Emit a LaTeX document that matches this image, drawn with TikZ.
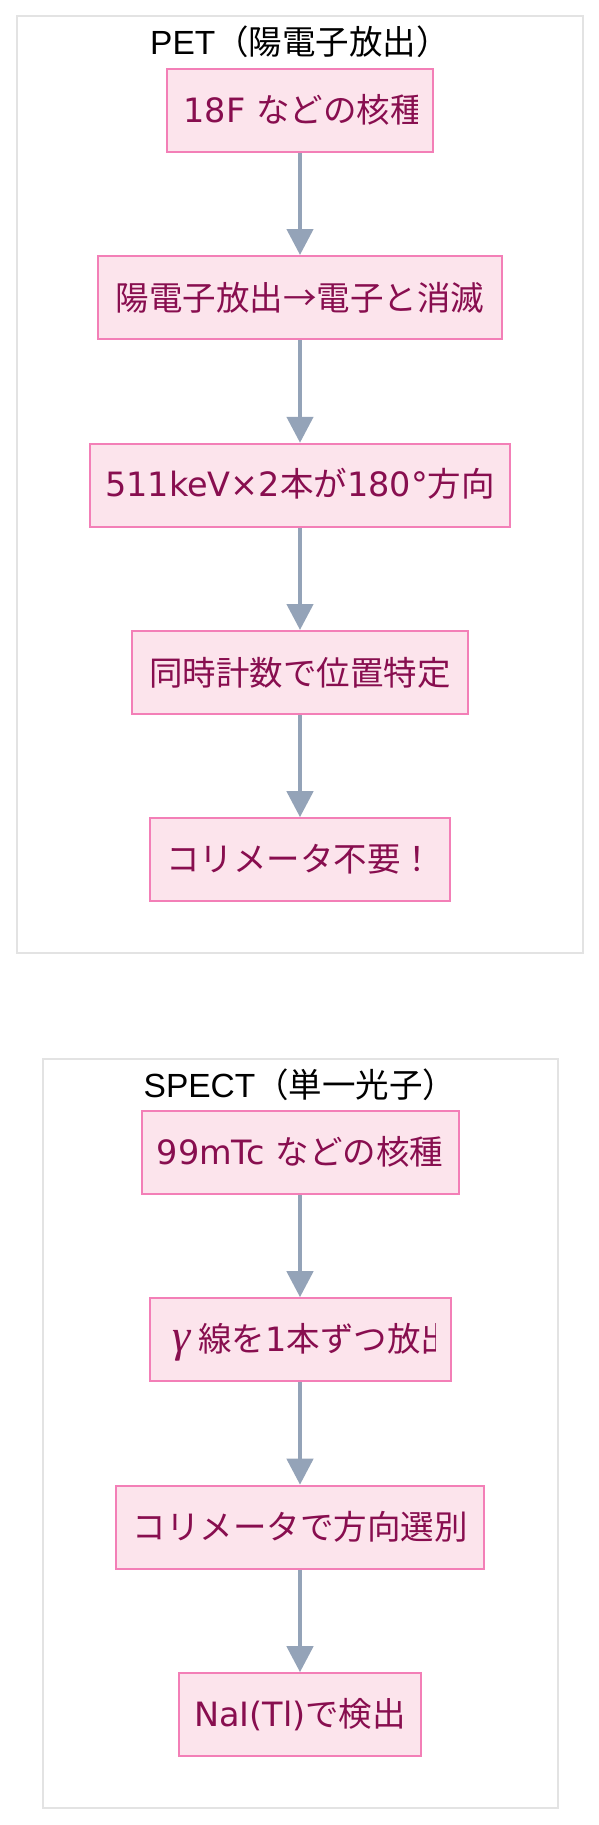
\documentclass[tikz,border=0pt]{standalone}
\usepackage{fontspec}
\newfontfamily\jp{Noto Sans CJK JP}
\newfontfamily\lat{DejaVu Sans}
\newfontfamily\ttllat{Liberation Sans}
\newfontfamily\gk{Liberation Serif}
\newcommand\la[1]{{\lat #1}}
\usetikzlibrary{arrows.meta}
\definecolor{boxfill}{HTML}{FCE4EC}
\definecolor{boxline}{HTML}{F37FB7}
\definecolor{txtc}{HTML}{880E4F}
\definecolor{arrc}{HTML}{94A3B8}
\definecolor{clusterline}{HTML}{E3E3E3}
\tikzset{
  stepbox/.style={draw=boxline, fill=boxfill, line width=2pt, minimum height=83pt,
    inner sep=0pt, text=txtc, font=\jp\fontsize{33.5}{40}\selectfont},
  lbl/.style={inner sep=0pt, text=txtc, font=\jp\fontsize{33.5}{40}\selectfont},
  cluster/.style={draw=clusterline, fill=white, line width=2pt, inner sep=0pt},
  ttl/.style={inner sep=0pt, text=black, font=\jp\fontsize{33.5}{40}\selectfont},
  flow/.style={draw=arrc, line width=4.5pt, -{Triangle[length=26pt,width=26pt]}},
}
\newcommand\cliptext[4]{%
  \begin{scope}
    \clip ([xshift=16pt]#1.south west) rectangle ([xshift=-16pt]#1.north east);
    \node[lbl, anchor=base west] (#4) at ([xshift=#2pt,yshift=-11.5pt]#1.west) {#3};
  \end{scope}}
\begin{document}
\begin{tikzpicture}[x=1pt,y=-1pt]
  \useasboundingbox (0,0) rectangle (599,1825);
  \fill[white] (0,0) rectangle (599,1825);

  % PET cluster
  \node[cluster, minimum width=566pt, minimum height=937pt] (pet) at (300,484.5) {};
  \node[ttl, anchor=base] (pettitle) at (300,55) {{\ttllat PET}（陽電子放出）};

  \node[stepbox, minimum width=265.4pt] (p1) at (300,110.8) {};
  \cliptext{p1}{17}{\la{18F }などの核種}{p1t}
  \node[stepbox, minimum width=403.4pt] (p2) at (300,297.5) {陽電子放出→電子と消滅};
  \node[stepbox, minimum width=420pt] (p3) at (300,485.3) {};
  \cliptext{p3}{16}{\la{511keV×2}本が\la{180°}方向}{p3t}
  \node[stepbox, minimum width=336.6pt] (p4) at (300,672.5) {同時計数で位置特定};
  \node[stepbox, minimum width=300.7pt] (p5) at (300,859.7) {コリメータ不要！};

  \draw[flow] (p1.south) -- (p2.north);
  \draw[flow] (p2.south) -- (p3.north);
  \draw[flow] (p3.south) -- (p4.north);
  \draw[flow] (p4.south) -- (p5.north);

  % SPECT cluster
  \node[cluster, minimum width=514.8pt, minimum height=749pt] (spect) at (300.2,1433.5) {};
  \node[ttl, anchor=base] (specttitle) at (300,1097) {{\ttllat SPECT}（単一光子）};

  \node[stepbox, minimum width=317pt] (s1) at (300,1152.5) {};
  \cliptext{s1}{16}{\la{99mTc }などの核種}{s1t}
  \node[stepbox, minimum width=301pt] (s2) at (300,1339.7) {};
  \cliptext{s2}{16}{\makebox[1em]{\gk\itshape\fontsize{46}{46}\selectfont γ}線を\la{1}本ずつ放出}{s2t}
  \node[stepbox, minimum width=368.3pt] (s3) at (300,1527.2) {コリメータで方向選別};
  \node[stepbox, minimum width=241.4pt] (s4) at (300,1714.7) {\la{NaI(Tl)}で検出};

  \draw[flow] (s1.south) -- (s2.north);
  \draw[flow] (s2.south) -- (s3.north);
  \draw[flow] (s3.south) -- (s4.north);
\end{tikzpicture}
\end{document}
